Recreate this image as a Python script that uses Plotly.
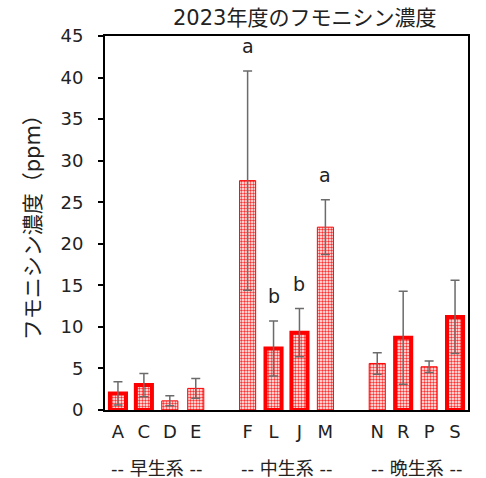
import plotly.graph_objects as go

# 品種と平均値・標準偏差（ppm）
groups = ["早生系", "中生系", "晩生系"]
varieties = [["A", "C", "D", "E"], ["F", "L", "J", "M"], ["N", "R", "P", "S"]]
means = [[2.0, 3.0, 1.1, 2.6], [27.6, 7.4, 9.3, 22.0], [5.6, 8.7, 5.2, 11.2]]
sds = [[1.4, 1.4, 0.6, 1.2], [13.2, 3.3, 2.9, 3.3], [1.3, 5.6, 0.7, 4.4]]
thick = [[True, True, False, False], [False, True, True, False], [False, True, False, True]]
letters = {"F": "a", "L": "b", "J": "b", "M": "a"}
y_ticks = [0, 5, 10, 15, 20, 25, 30, 35, 40, 45]

FONT = "DejaVu Sans, Noto Sans CJK JP"
TXT = "#222"

xs, names, ys, es, lw, group_centers = [], [], [], [], [], []
pos = 0
for g, vs in enumerate(varieties):
    start = pos
    for i, v in enumerate(vs):
        xs.append(pos)
        names.append(v)
        ys.append(means[g][i])
        es.append(sds[g][i])
        lw.append(4 if thick[g][i] else 1)
        pos += 1
    group_centers.append((start + pos - 1) / 2)
    pos += 1  # 系統間の空き

fig = go.Figure()
fig.add_trace(go.Bar(
    x=xs, y=ys, width=0.62,
    marker=dict(
        color="white",
        line=dict(color="#ff0000", width=lw),
        pattern=dict(shape=".", fgcolor="#ff3030", bgcolor="white",
                     size=3, solidity=0.5, fillmode="replace"),
    ),
    error_y=dict(type="data", array=es, visible=True, color="#6b6b6b",
                 thickness=1.5, width=4.5),
    showlegend=False,
))

annotations = []
for x, n, y, e in zip(xs, names, ys, es):
    if n in letters:
        annotations.append(dict(x=x, y=y + e, text=letters[n], showarrow=False,
                                yshift=12, yanchor="bottom",
                                font=dict(family=FONT, size=19, color=TXT)))
for gx, gname in zip(group_centers, groups):
    annotations.append(dict(x=gx, y=-0.157, xref="x", yref="paper",
                            yanchor="middle",
                            text="-- " + gname + " --", showarrow=False,
                            font=dict(family=FONT, size=18, color=TXT)))
# 縦軸タイトル
annotations.append(dict(x=-0.2, y=0.503, xref="paper", yref="paper",
                        text="フモニシン濃度（ppm）", textangle=-90,
                        showarrow=False, xanchor="center", yanchor="middle",
                        font=dict(family=FONT, size=21, color=TXT)))

fig.update_layout(
    width=486, height=478,
    margin=dict(l=105, r=18, t=36, b=68),
    paper_bgcolor="white", plot_bgcolor="white",
    title=dict(text="2023年度のフモニシン濃度", x=0.627, xanchor="center",
               y=0.964, yanchor="middle",
               font=dict(family=FONT, size=21, color=TXT)),
    annotations=annotations,
)
fig.update_xaxes(
    range=[-0.5, pos - 1.5],
    tickvals=xs, ticktext=names,
    tickfont=dict(family=FONT, size=18, color=TXT),
    ticklabelstandoff=4,
    showline=True, linecolor="black", linewidth=2, mirror=True,
    ticks="", showgrid=False, zeroline=False,
)
fig.update_yaxes(
    range=[0, 45], tickvals=y_ticks,
    tickfont=dict(family=FONT, size=18, color=TXT),
    ticklabelstandoff=11,
    showline=True, linecolor="black", linewidth=2, mirror=True,
    ticks="outside", ticklen=5, tickwidth=1.5, tickcolor="black",
    showgrid=False, zeroline=False,
)

fig.write_html("out.html")
